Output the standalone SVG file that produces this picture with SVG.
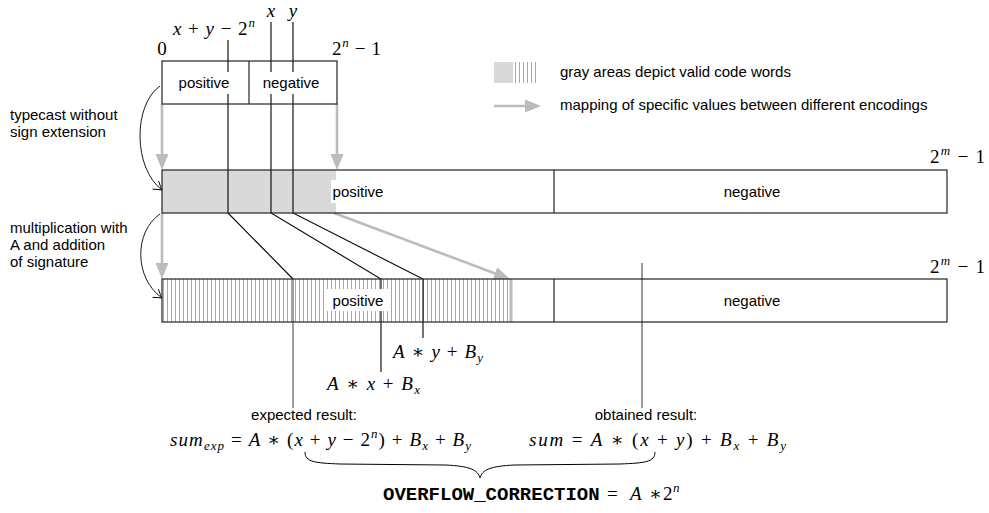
<svg xmlns="http://www.w3.org/2000/svg" width="989" height="513" viewBox="0 0 989 513">
<defs>
<style>
.t{font-family:"Liberation Sans",Arial,sans-serif;font-size:15px;fill:#000}
.c{text-anchor:middle}
.m{font-family:"Liberation Serif","DejaVu Serif",serif;font-size:19px;fill:#000}
.i{font-style:italic}
.s{font-size:13px}
.box{fill:none;stroke:#222;stroke-width:1.2}
.bg{fill:#fff}
.blk{stroke:#000;stroke-width:1.1;fill:none}
.gry{stroke:#bcbcbc;stroke-width:2.6;fill:none}
.ttl{font-family:"Liberation Mono","DejaVu Sans Mono",monospace;font-weight:bold;font-size:19px}
</style>
<pattern id="hatch" width="4" height="10" patternUnits="userSpaceOnUse" x="162" y="0">
<rect width="4" height="10" fill="#fff"/>
<line x1="1.5" y1="0" x2="1.5" y2="10" stroke="#a8a8a8" stroke-width="1"/>
</pattern>
<marker id="ga" markerUnits="userSpaceOnUse" markerWidth="17" markerHeight="14" viewBox="0 -7 17 14" refX="8" refY="0" orient="auto"><path d="M0,-6.5 L16,0 L0,6.5 z" fill="#bcbcbc"/></marker>
<marker id="oa" markerUnits="userSpaceOnUse" markerWidth="10" markerHeight="12" viewBox="-9 -6 10 12" refX="0" refY="0" orient="auto" overflow="visible"><path d="M-8,-5 Q-3,-1.5 0,0 Q-3,1.5 -8,5" fill="none" stroke="#000" stroke-width="0.9"/></marker>
</defs>
<rect width="989" height="513" fill="#fff"/>

<g id="fills">
<rect x="162" y="61" width="175" height="43" fill="#fff"/>
<rect x="162" y="170" width="785" height="43" fill="#fff"/>
<rect x="162" y="170" width="174" height="43" fill="#d9d9d9"/>
<rect x="162" y="279" width="785" height="43" fill="#fff"/>
<rect x="162" y="279" width="349" height="43" fill="url(#hatch)"/>
</g>

<g id="connectors">
<path class="blk" d="M228,40 V213 L293,279"/>
<path d="M293,279 V408" stroke="#777" stroke-width="1.4" fill="none"/>
<path class="blk" d="M271,22 V213 L381,279 V372"/>
<path class="blk" d="M293,22 V213 L423,279 V338"/>
<path d="M642,263 V408" stroke="#555" stroke-width="1.2" fill="none"/>
<path class="gry" d="M162,104 V162" marker-end="url(#ga)"/>
<path class="gry" d="M337,104 V162" marker-end="url(#ga)"/>
<path class="gry" d="M162,213 V271" marker-end="url(#ga)"/>
<path class="gry" d="M334,213 L502.5,276.2" marker-end="url(#ga)"/>
<path d="M511,279 V322" stroke="#bcbcbc" stroke-width="3" fill="none"/>
<path d="M160,86 C133,105 133,168 162,190" fill="none" stroke="#000" stroke-width="0.9" marker-end="url(#oa)"/>
<path d="M160,214 C134,232 134,278 162,298" fill="none" stroke="#000" stroke-width="0.9" marker-end="url(#oa)"/>
<path d="M305,452 C305,462 315,463 340,464 L445,465 C470,466 478,470 480,478 C482,470 490,466 515,465 L620,464 C645,463 655,462 655,452" fill="none" stroke="#000" stroke-width="1"/>
</g>

<g id="top-range">
<rect class="box" x="162" y="61" width="175" height="43"/>
<line x1="249" y1="61" x2="249" y2="104" stroke="#222" stroke-width="1.2"/>
<rect class="bg" x="175" y="72" width="58" height="22"/>
<text class="t c" x="204" y="88">positive</text>
<rect class="bg" x="259" y="72" width="64" height="22"/>
<text class="t c" x="291" y="88">negative</text>
</g>

<g id="row-typecast">
<rect class="box" x="162" y="170" width="785" height="43"/>
<line x1="554" y1="170" x2="554" y2="213" stroke="#222" stroke-width="1.2"/>
<rect class="bg" x="331" y="180" width="55" height="23"/>
<text class="t c" x="358" y="197">positive</text>
<text class="t c" x="752" y="197">negative</text>
</g>

<g id="row-encoded">
<rect class="box" x="162" y="279" width="785" height="43"/>
<line x1="554" y1="279" x2="554" y2="322" stroke="#222" stroke-width="1.2"/>
<rect class="bg" x="327" y="289" width="63" height="22"/>
<text class="t c" x="358" y="306">positive</text>
<text class="t c" x="752" y="306">negative</text>
</g>

<g id="legend">
<rect x="494" y="62" width="19" height="21" fill="#d9d9d9"/>
<rect x="513" y="62" width="26" height="21" fill="url(#hatch)"/>
<text class="t" x="560" y="77">gray areas depict valid code words</text>
<path class="gry" d="M494,106 H533" marker-end="url(#ga)"/>
<text class="t" x="560" y="110">mapping of specific values between different encodings</text>
</g>

<g id="side-labels">
<text class="t" x="10" y="120">typecast without</text>
<text class="t" x="10" y="137">sign extension</text>
<text class="t" x="10" y="233">multiplication with</text>
<text class="t" x="10" y="250">A and addition</text>
<text class="t" x="10" y="267">of signature</text>
</g>

<g id="math-labels">
<text class="m" x="173" y="35" textLength="82" lengthAdjust="spacing"><tspan class="i">x</tspan> + <tspan class="i">y</tspan> − 2<tspan class="s i" dy="-8">n</tspan></text>
<text class="m i c" x="271" y="17">x</text>
<text class="m i c" x="293" y="17">y</text>
<text class="m c" x="162" y="55">0</text>
<text class="m" x="332" y="55" textLength="49" lengthAdjust="spacing">2<tspan class="s i" dy="-8">n</tspan><tspan dy="8"> − 1</tspan></text>
<text class="m" x="930" y="163" textLength="55" lengthAdjust="spacing">2<tspan class="s i" dy="-8">m</tspan><tspan dy="8"> − 1</tspan></text>
<text class="m" x="930" y="273" textLength="55" lengthAdjust="spacing">2<tspan class="s i" dy="-8">m</tspan><tspan dy="8"> − 1</tspan></text>
<text class="m" x="393" y="358" textLength="90" lengthAdjust="spacing"><tspan class="i">A</tspan> ∗ <tspan class="i">y</tspan> + <tspan class="i">B</tspan><tspan class="s i" dy="4">y</tspan></text>
<text class="m" x="327" y="390" textLength="93" lengthAdjust="spacing"><tspan class="i">A</tspan> ∗ <tspan class="i">x</tspan> + <tspan class="i">B</tspan><tspan class="s i" dy="4">x</tspan></text>
</g>

<g id="results">
<text class="t c" x="304" y="420">expected result:</text>
<text class="m" x="170" y="446" textLength="301" lengthAdjust="spacing"><tspan class="i">sum</tspan><tspan class="s i" dy="4">exp</tspan><tspan dy="-4"> = </tspan><tspan class="i">A</tspan> ∗ (<tspan class="i">x</tspan> + <tspan class="i">y</tspan> − 2<tspan class="s i" dy="-8">n</tspan><tspan dy="8">) + </tspan><tspan class="i">B</tspan><tspan class="s i" dy="4">x</tspan><tspan dy="-4"> + </tspan><tspan class="i">B</tspan><tspan class="s i" dy="4">y</tspan></text>
<text class="t c" x="646" y="420">obtained result:</text>
<text class="m" x="529" y="446" textLength="257" lengthAdjust="spacing"><tspan class="i">sum</tspan> = <tspan class="i">A</tspan> ∗ (<tspan class="i">x</tspan> + <tspan class="i">y</tspan>) + <tspan class="i">B</tspan><tspan class="s i" dy="4">x</tspan><tspan dy="-4"> + </tspan><tspan class="i">B</tspan><tspan class="s i" dy="4">y</tspan></text>
<text x="383" y="500"><tspan class="ttl">OVERFLOW_CORRECTION</tspan><tspan class="m" x="607">=</tspan><tspan class="m i" x="630">A</tspan><tspan class="m" x="649">∗</tspan><tspan class="m" x="663">2</tspan><tspan class="m s i" x="673" dy="-8">n</tspan></text>
</g>
</svg>
